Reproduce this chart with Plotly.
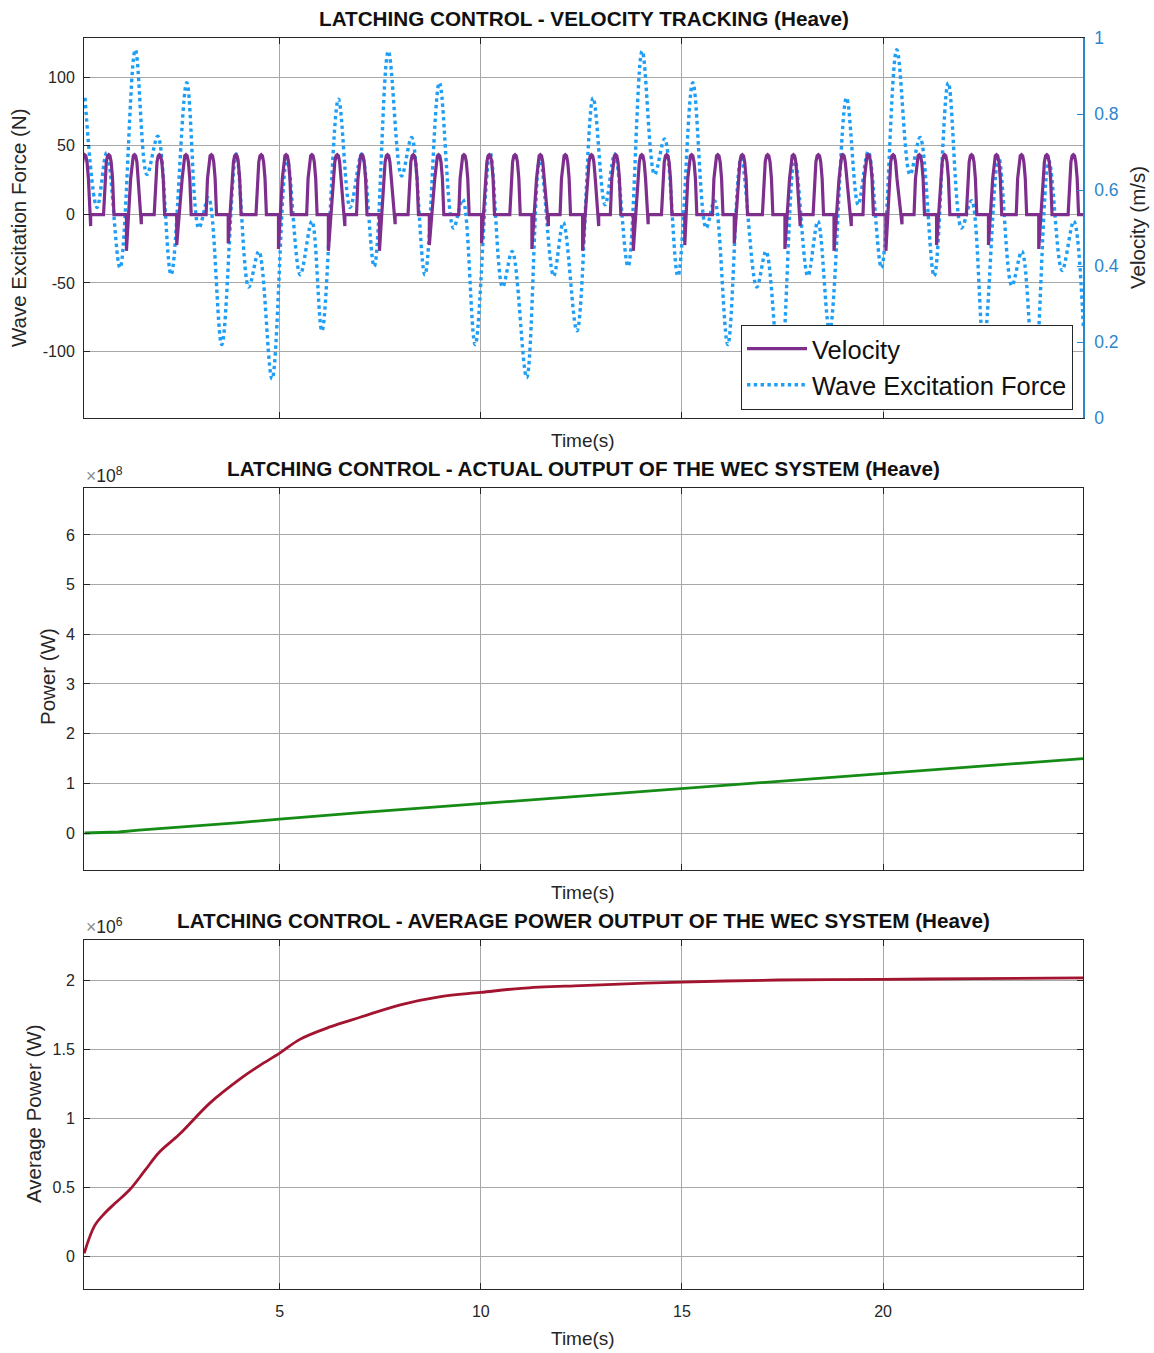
import plotly.graph_objects as go

# ---------------- data ----------------
# Wave excitation force (N): local extrema (time s, force N)
wave_t = [0.16, 0.46, 0.70, 1.03, 1.41, 1.70, 1.97, 2.30, 2.69, 2.99, 3.23, 3.56, 3.92, 4.23, 4.48, 4.81, 5.18, 5.51, 5.80, 6.05,
          6.46, 6.75, 7.04, 7.35, 7.70, 8.03, 8.28, 8.61, 8.97, 9.32, 9.55, 9.86, 10.23, 10.54, 10.78, 11.14, 11.47, 11.81, 12.05, 12.39,
          12.79, 13.09, 13.33, 13.66, 14.01, 14.32, 14.57, 14.90, 15.27, 15.60, 15.81, 16.14, 16.47, 16.86, 17.09, 17.44, 17.80, 18.13, 18.38, 18.67,
          19.09, 19.38, 19.63, 19.96, 20.34, 20.67, 20.92, 21.27, 21.62, 21.95, 22.20, 22.50, 22.87, 23.20, 23.45, 23.76, 24.12, 24.45, 24.74, 24.98]
wave_f = [85, 5, 45, -39, 120, 29, 57, -44, 96, -10, 12, -95, 44, -53, -27, -120, 41, -44, -5, -85,
          84, 5, 44, -38, 119, 28, 56, -44, 96, -10, 11, -95, 45, -53, -27, -119, 41, -45, -6, -85,
          85, 7, 44, -38, 119, 29, 55, -45, 96, -10, 10, -95, 41, -53, -27, -120, 41, -45, -5, -85,
          85, 7, 46, -39, 120, 29, 56, -45, 96, -10, 10, -95, 42, -52, -27, -120, 39, -41, -5, -83]

# Velocity (m/s, right axis): latched pulses
pulse_peak_t = [0.15, 0.75, 1.39, 2.01, 2.67, 3.30, 3.91, 4.54, 5.16, 5.80, 6.43, 7.04, 7.68, 8.32, 8.95, 9.58, 10.21,
                10.85, 11.48, 12.10, 12.75, 13.35, 14.00, 14.62, 15.24, 15.89, 16.50, 17.13, 17.77, 18.39, 19.00,
                19.63, 20.25, 20.90, 21.53, 22.20, 22.82, 23.44, 24.07, 24.73]
deep_dip_t = [1.19, 2.44, 3.72, 4.97, 6.21, 7.48, 8.72, 10.02, 11.27, 12.53, 13.79, 15.07, 16.30, 17.56, 18.78,
              20.07, 21.33, 22.62, 23.87]
deep_dip_v = [0.44, 0.455, 0.46, 0.445, 0.44, 0.44, 0.455, 0.46, 0.445, 0.44, 0.44, 0.455, 0.46, 0.445, 0.44,
              0.44, 0.455, 0.455, 0.445]
shallow_dip_t = [0.30, 1.56, 6.62, 7.87, 11.68, 12.93, 14.16, 17.94, 19.21, 20.47]
shallow_dip_v = [0.505, 0.51, 0.505, 0.51, 0.505, 0.505, 0.51, 0.505, 0.505, 0.51]
VEL_REST = 0.535
VEL_PEAK = 0.693
# pulse outline (time offset from peak, fraction of pulse height)
pulse_dt = [-0.13, -0.095, -0.06, -0.03, 0.0, 0.03, 0.06, 0.095, 0.13]
pulse_fr = [0.0, 0.6, 0.88, 0.98, 1.0, 0.98, 0.88, 0.6, 0.0]

# Actual output power (x1e8 W)
power_t = [0.15, 0.5, 1.0, 1.5, 2.0, 3.0, 4.0, 5.0, 6.0, 7.0, 8.0, 9.0, 10.0, 11.0, 12.0, 13.0, 14.0, 15.0,
           16.0, 17.0, 18.0, 19.0, 20.0, 21.0, 22.0, 23.0, 24.0, 25.0]
power_v = [0.0, 0.005, 0.02, 0.06, 0.09, 0.14, 0.21, 0.28, 0.35, 0.41, 0.47, 0.53, 0.59, 0.65, 0.71, 0.77, 0.83,
           0.89, 0.96, 1.02, 1.08, 1.14, 1.20, 1.26, 1.32, 1.38, 1.44, 1.50]

# Average power (x1e6 W)
avg_t = [0.14, 0.4, 0.65, 0.9, 1.27, 1.65, 2.0, 2.5, 3.27, 4.0, 4.5, 5.0, 5.5, 6.25, 7.0, 8.0, 9.0, 10.0, 11.0,
         12.5, 15.0, 17.4, 20.0, 22.3, 25.0]
avg_v = [0.02, 0.22, 0.31, 0.38, 0.48, 0.62, 0.75, 0.88, 1.11, 1.28, 1.38, 1.47, 1.57, 1.66, 1.73, 1.82, 1.88,
         1.91, 1.94, 1.96, 1.985, 2.0, 2.005, 2.01, 2.015]

force_ticks = [-100, -50, 0, 50, 100]
force_ticktext = ["-100", "-50", "0", "50", "100"]
vel_ticks = [0, 0.2, 0.4, 0.6, 0.8, 1]
vel_ticktext = ["0", "0.2", "0.4", "0.6", "0.8", "1"]
power_ticks = [0, 1, 2, 3, 4, 5, 6]
avg_ticks = [0, 0.5, 1, 1.5, 2]
avg_ticktext = ["0", "0.5", "1", "1.5", "2"]
time_ticks = [5, 10, 15, 20]

X_RANGE = [0.135, 24.97]

# ---------------- build velocity path ----------------
vel_t, vel_v = [X_RANGE[0] - 0.2], [VEL_REST]
amp = VEL_PEAK - VEL_REST
for p in pulse_peak_t:
    deep = [(d, v) for d, v in zip(deep_dip_t, deep_dip_v) if p - 0.35 < d < p]
    shal = [(s, v) for s, v in zip(shallow_dip_t, shallow_dip_v) if p < s < p + 0.35]
    pts = list(zip(pulse_dt, pulse_fr))
    if deep:
        d, dv = deep[0]
        vel_t += [d, d]
        vel_v += [VEL_REST, dv]
        pts = pts[1:]
    if shal:
        pts = pts[:-1]
    for dt, fr in pts:
        vel_t.append(p + dt)
        vel_v.append(VEL_REST + fr * amp)
    if shal:
        s, sv = shal[0]
        vel_t += [s, s]
        vel_v += [sv, VEL_REST]
vel_t.append(X_RANGE[1] + 0.2)
vel_v.append(VEL_REST)

# ---------------- figure ----------------
FONT = "Liberation Sans, Arial, Helvetica, sans-serif"
AX = "#262626"
GRID = "#a8a8a8"
W, H = 1154, 1353
xd = [84 / W, 1083 / W]
def ydom(top, bot):
    return [1 - bot / H, 1 - top / H]

fig = go.Figure()

fig.add_trace(go.Scatter(x=vel_t, y=vel_v, mode="lines", name="Velocity",
                         line=dict(color="#7E2F8E", width=3.2), xaxis="x", yaxis="y2", legendrank=1))
fig.add_trace(go.Scatter(x=wave_t, y=wave_f, mode="lines", name="Wave Excitation Force",
                         line=dict(color="#1E9EF5", width=3.4, dash="dot", shape="spline", smoothing=1.0),
                         xaxis="x", yaxis="y", legendrank=2))
fig.add_trace(go.Scatter(x=power_t, y=power_v, mode="lines", showlegend=False,
                         line=dict(color="#158C15", width=2.8), xaxis="x2", yaxis="y3"))
fig.add_trace(go.Scatter(x=avg_t, y=avg_v, mode="lines", showlegend=False,
                         line=dict(color="#A2142F", width=2.8, shape="spline"), xaxis="x3", yaxis="y4"))

common_x = dict(range=X_RANGE, tickvals=time_ticks, ticks="inside", ticklen=6, tickcolor=AX,
                showline=True, linecolor=AX, linewidth=1, mirror="ticks", showgrid=True,
                gridcolor=GRID, gridwidth=1, zeroline=False, domain=xd, automargin=False,
                ticklabelstandoff=8,
                tickfont=dict(family=FONT, size=16, color=AX))
common_y = dict(ticks="inside", ticklen=6, tickcolor=AX, showline=True, linecolor=AX, linewidth=1,
                showgrid=True, gridcolor=GRID, gridwidth=1, zeroline=False, automargin=False,
                ticklabelstandoff=5,
                tickfont=dict(family=FONT, size=16, color=AX))

fig.update_layout(
    width=W, height=H, margin=dict(l=0, r=0, t=0, b=0, pad=0, autoexpand=False),
    paper_bgcolor="white", plot_bgcolor="white",
    font=dict(family=FONT, color=AX),
    xaxis=dict(common_x, anchor="y", showticklabels=False),
    yaxis=dict(common_y, domain=ydom(38, 418), anchor="x", range=[-148.5, 128.6],
               tickvals=force_ticks, ticktext=force_ticktext, mirror=False),
    yaxis2=dict(domain=ydom(38, 418), anchor="x", overlaying="y", side="right", range=[0, 1],
                tickvals=vel_ticks, ticktext=vel_ticktext, ticks="inside", ticklen=6,
                tickcolor="#2B86CC", showline=True, linecolor="#2B86CC", linewidth=1.5,
                showgrid=False, zeroline=False, automargin=False, ticklabelstandoff=6,
                tickfont=dict(family=FONT, size=17.5, color="#2B86CC")),
    xaxis2=dict(common_x, anchor="y3", showticklabels=False),
    yaxis3=dict(common_y, domain=ydom(488, 870), anchor="x2", range=[-0.745, 6.946],
                tickvals=power_ticks, mirror="ticks"),
    xaxis3=dict(common_x, anchor="y4", showticklabels=True),
    yaxis4=dict(common_y, domain=ydom(940, 1289), anchor="x3", range=[-0.239, 2.29],
                tickvals=avg_ticks, ticktext=avg_ticktext, mirror="ticks"),
    legend=dict(x=1073 / W, y=1 - 367 / H, xanchor="right", yanchor="middle",
                bgcolor="white", bordercolor="#262626", borderwidth=1, itemwidth=60,
                font=dict(family=FONT, size=25.5, color="#111111"), tracegroupgap=0),
    showlegend=True,
)

def ann(text, x, y, size, bold=False, angle=0, color="#111111", xanchor="center"):
    if bold:
        text = "<b>" + text + "</b>"
    fig.add_annotation(text=text, x=x / W, y=1 - y / H, xref="paper", yref="paper",
                       showarrow=False, textangle=angle, xanchor=xanchor, yanchor="middle",
                       font=dict(family=FONT, size=size, color=color))

ann("LATCHING CONTROL - VELOCITY TRACKING (Heave)", 584, 18, 20.7, bold=True)
ann("LATCHING CONTROL - ACTUAL OUTPUT OF THE WEC SYSTEM (Heave)", 584, 468, 20.7, bold=True)
ann("LATCHING CONTROL - AVERAGE POWER OUTPUT OF THE WEC SYSTEM (Heave)", 584, 920, 20.7, bold=True)
ann("Time(s)", 583, 440, 19, color=AX)
ann("Time(s)", 583, 892, 19, color=AX)
ann("Time(s)", 583, 1338, 19, color=AX)
ann("Wave Excitation Force (N)", 19, 228, 20.5, angle=-90, color=AX)
ann("Velocity (m/s)", 1138, 228, 20.5, angle=-90, color=AX)
ann("Power (W)", 47, 677, 20.5, angle=-90, color=AX)
ann("Average Power (W)", 33, 1114, 20.5, angle=-90, color=AX)
ann("<span style='color:#8a8a8a'>×</span>10<sup>8</sup>", 84, 475, 17.5, color=AX, xanchor="left")
ann("<span style='color:#8a8a8a'>×</span>10<sup>6</sup>", 84, 926, 17.5, color=AX, xanchor="left")

fig.write_html("out.html")
